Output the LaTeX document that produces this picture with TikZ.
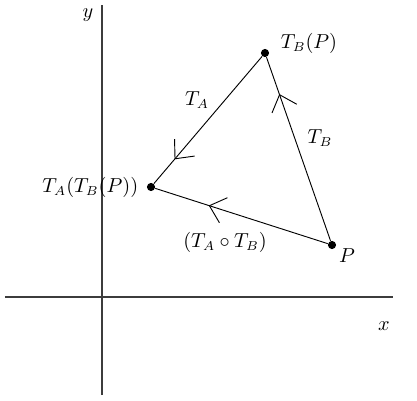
\documentclass[tikz,border=0pt]{standalone}
\usepackage{amsmath}
\usepackage{amssymb}
\usetikzlibrary{arrows.meta,decorations.markings}

\begin{document}
\begin{tikzpicture}[x=0.019cm, y=0.019cm, font=\fontsize{10.7pt}{13pt}\selectfont]
      % Define dot size
      \def\dotsize{2.2pt}

      % Define colors
      \definecolor{axiscolor}{RGB}{60,60,60}
      \definecolor{edgecolor}{RGB}{0,0,0}

      % Styles
      \tikzset{
        dot/.style={circle, fill=edgecolor, inner sep=0pt, minimum size=2*\dotsize},
        midarrow/.style={postaction={decorate}, decoration={markings,
          mark=at position #1 with {\arrow{Straight Barb[length=2.8mm, width=5mm, line width=0.5pt]}}}}
      }

      % Frame
      \useasboundingbox (-102,-103) rectangle (315,297);

      % Axes
      \coordinate (xl) at (-97,0);
      \coordinate (xr) at (291,0);
      \coordinate (yb) at (0,-98);
      \coordinate (yt) at (0,292);
      \draw[-, axiscolor, line width=0.7pt] (xl) -- (xr);
      \draw[-, axiscolor, line width=0.7pt] (yb) -- (yt);
      \node (ylab) at (-14,282) {$y$};
      \node (xlab) at (282,-29) {$x$};

      % Points
      \node[dot] (P) at (230,52) {};
      \node[dot] (TBP) at (163,244) {};
      \node[dot] (TATBP) at (49,110) {};

      % Connecting lines
      \draw[-, edgecolor, line width=0.5pt, midarrow=0.8] (P) -- (TBP);
      \draw[-, edgecolor, line width=0.5pt, midarrow=0.81] (TBP) -- (TATBP);
      \draw[-, edgecolor, line width=0.5pt, midarrow=0.69] (P) -- (TATBP);

      % Labels
      \node (labP) at (245,41) {$P$};
      \node (labTBP) at (207,254) {$T_B(P)$};
      \node[left=1pt] (labTATBP) at (TATBP.west) {$T_A(T_B(P))$};
      \node (labTA) at (95,197) {$T_A$};
      \node (labTB) at (218,159) {$T_B$};
      \node (labcomp) at (123,55) {$(T_A\circ T_B)$};

    \end{tikzpicture}
\end{document}
